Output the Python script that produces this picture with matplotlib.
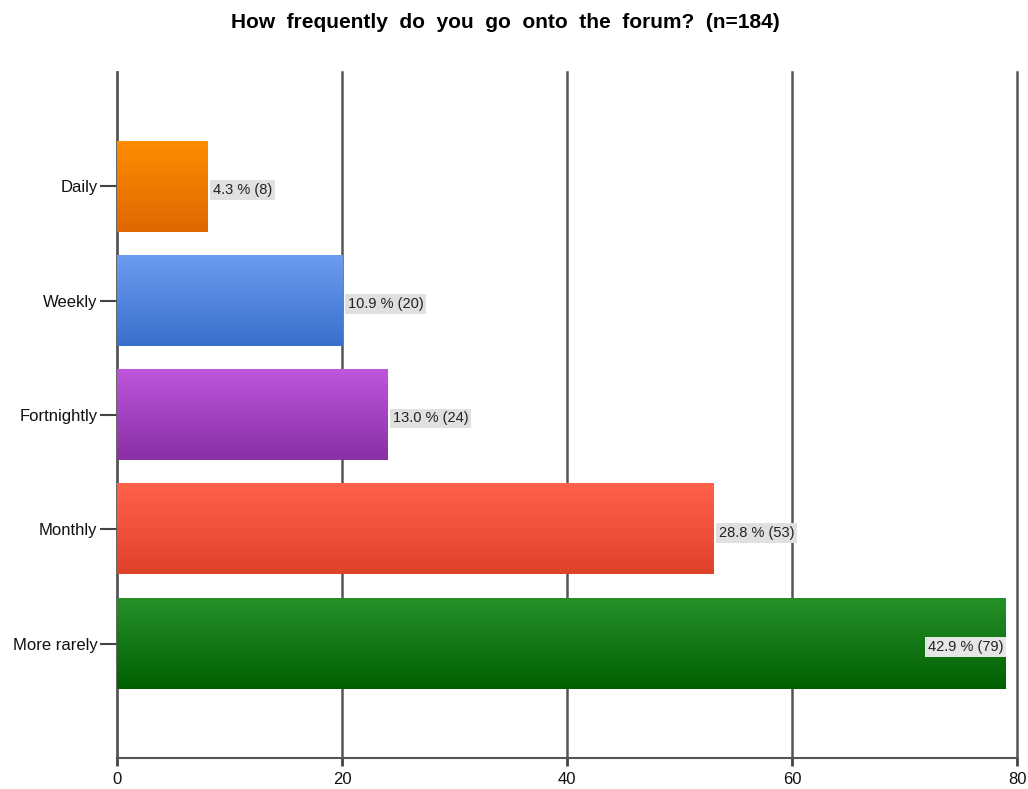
import matplotlib.pyplot as plt
import numpy as np
from matplotlib.colors import LinearSegmentedColormap

plt.rcParams['font.family'] = ['Liberation Sans', 'DejaVu Sans']

categories = ['Daily', 'Weekly', 'Fortnightly', 'Monthly', 'More rarely']
counts = [8, 20, 24, 53, 79]
percents = [4.3, 10.9, 13.0, 28.8, 42.9]
# (top colour, bottom colour) for each bar's vertical gradient
bar_colors = [('#ff8c00', '#de6800'),
              ('#6c9cf0', '#3a6fcc'),
              ('#be56dc', '#8a2fa6'),
              ('#ff6248', '#de4228'),
              ('#25902a', '#006000')]

fig = plt.figure(figsize=(10.28, 7.89), dpi=100)
ax = fig.add_axes([0.1138, 0.0393, 0.8755, 0.8694])

height = 0.79
for i, (cat, n, pct, (c_top, c_bot)) in enumerate(zip(categories, counts, percents, bar_colors)):
    cmap = LinearSegmentedColormap.from_list(cat, [c_top, c_bot])
    grad = np.linspace(0, 1, 100).reshape(-1, 1)
    ax.imshow(grad, cmap=cmap, aspect='auto', zorder=3,
              extent=(0, n, i + height / 2, i - height / 2))
    label = f'{pct:.1f} % ({n})'
    if n > 70:
        ax.text(n - 0.2, i + 0.03, label, ha='right', va='center', fontsize=10.5,
                color='#222222', zorder=5,
                bbox=dict(boxstyle='square,pad=0.2', fc='#e6e6e6', ec='none'))
    else:
        ax.text(n + 0.5, i + 0.03, label, ha='left', va='center', fontsize=10.5,
                color='#222222', zorder=5,
                bbox=dict(boxstyle='square,pad=0.2', fc='#e0e0e0', ec='none'))

ax.set_xlim(0, 80)
ax.set_ylim(5, -1)
ax.set_xticks([0, 20, 40, 60, 80])
ax.set_yticks(range(len(categories)))
ax.set_yticklabels(categories)
ax.tick_params(axis='both', labelsize=12, colors='#444444', labelcolor='#111111')
ax.tick_params(axis='y', length=12, width=1.5, pad=2)
ax.tick_params(axis='x', length=6, width=2, pad=4)

# vertical grid lines, drawn unclipped so the one at 80 is full width
for gx in [20, 40, 60, 80]:
    ax.axvline(gx, color='#555555', linewidth=1.8, zorder=1, clip_on=False)
for side in ['top', 'right']:
    ax.spines[side].set_visible(False)
ax.spines['left'].set_color('#555555')
ax.spines['left'].set_linewidth(2)
ax.spines['bottom'].set_color('#555555')
ax.spines['bottom'].set_linewidth(1.5)

fig.text(0.492, 0.972, 'How  frequently  do  you  go  onto  the  forum?  (n=184)',
         ha='center', va='center', fontsize=15, fontweight='bold')

fig.savefig('out.png', dpi=100, facecolor='white')
